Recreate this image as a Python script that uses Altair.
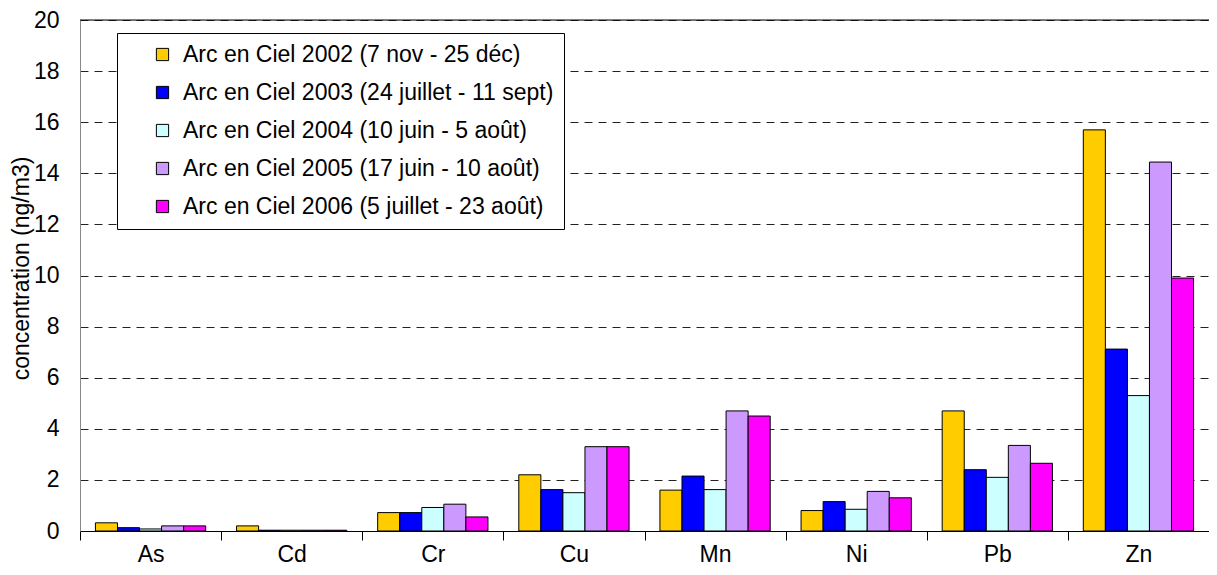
import altair as alt
import pandas as pd

elements = ["As", "Cd", "Cr", "Cu", "Mn", "Ni", "Pb", "Zn"]
series = [
    "Arc en Ciel 2002 (7 nov - 25 déc)",
    "Arc en Ciel 2003 (24 juillet - 11 sept)",
    "Arc en Ciel 2004 (10 juin - 5 août)",
    "Arc en Ciel 2005 (17 juin - 10 août)",
    "Arc en Ciel 2006 (5 juillet - 23 août)",
]
colors = ["#FFCC00", "#0000FF", "#CCFFFF", "#CC99FF", "#FF00FF"]

v2002 = [0.32, 0.2, 0.72, 2.2, 1.6, 0.8, 4.7, 15.7]
v2003 = [0.13, 0.03, 0.72, 1.62, 2.15, 1.15, 2.4, 7.12]
v2004 = [0.08, 0.03, 0.92, 1.5, 1.62, 0.85, 2.1, 5.3]
v2005 = [0.2, 0.03, 1.05, 3.3, 4.7, 1.55, 3.35, 14.44]
v2006 = [0.2, 0.03, 0.55, 3.3, 4.5, 1.3, 2.65, 9.9]

rows = []
for s, vals in zip(series, [v2002, v2003, v2004, v2005, v2006]):
    for e, v in zip(elements, vals):
        rows.append({"element": e, "series": s, "value": v})
df = pd.DataFrame(rows)

FONT = "Liberation Sans"

bars = alt.Chart(df).mark_bar(stroke="black", strokeWidth=1).encode(
    x=alt.X("element:N", sort=elements,
            scale=alt.Scale(paddingInner=0, paddingOuter=0),
            axis=alt.Axis(title=None, labelAngle=0, tickBand="extent",
                          domainColor="black", tickColor="black", tickSize=9,
                          labelFontSize=23, labelPadding=21, labelBaseline="alphabetic",
                          labelColor="black", labelFont=FONT, grid=False)),
    xOffset=alt.XOffset("series:N", sort=series,
                        scale=alt.Scale(paddingInner=0, paddingOuter=0.7)),
    y=alt.Y("value:Q", scale=alt.Scale(domain=[0, 20], nice=False),
            axis=alt.Axis(title="concentration (ng/m3)", values=list(range(0, 21, 2)),
                          titleFontSize=23, titleFontWeight="normal", titleFont=FONT,
                          titleColor="black", titleX=-47, titleY=248,
                          labelFontSize=23, labelFont=FONT, labelColor="black",
                          labelPadding=21, ticks=False, domainColor="#888888",
                          grid=True, gridDash=[8, 6], gridColor="#222222",
                          gridWidth=1)),
    color=alt.Color("series:N", sort=series,
                    scale=alt.Scale(domain=series, range=colors),
                    legend=alt.Legend(title=None, orient="none", legendX=37, legendY=13,
                                      direction="vertical",
                                      fillColor="white", strokeColor="black",
                                      padding=10, symbolOffset=24,
                                      symbolType="square", symbolSize=150,
                                      symbolStrokeColor="black", symbolStrokeWidth=1,
                                      labelFontSize=23, labelFont=FONT,
                                      labelColor="black", labelOffset=9,
                                      rowPadding=14, labelLimit=600)),
)

top = alt.Chart(pd.DataFrame({"y": [20]})).mark_rule(color="black", strokeWidth=1).encode(
    y=alt.Y("y:Q", scale=alt.Scale(domain=[0, 20], nice=False))
)

chart = alt.layer(bars, top).properties(
    width=1129, height=511,
    autosize=alt.AutoSizeParams(type="none"),
    padding={"left": 72, "top": 12, "right": 0, "bottom": 36},
).configure_view(stroke=None).configure(font=FONT)

chart.save("out.html", embed_options={"renderer": "svg", "actions": False})
